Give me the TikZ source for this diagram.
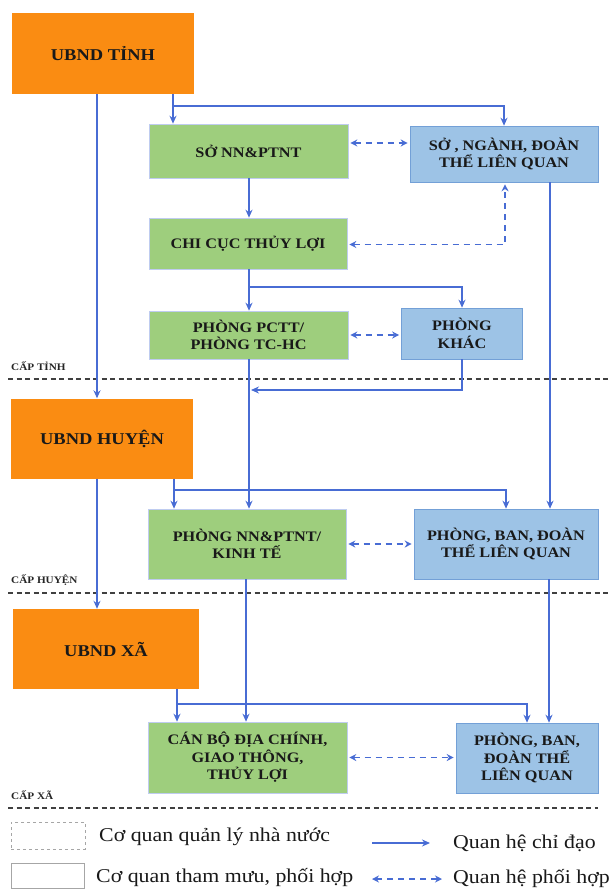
\documentclass[tikz,border=0pt]{standalone}
\usepackage{fontspec}
\setmainfont{Liberation Serif}[FakeStretch=1.12]
\usetikzlibrary{arrows.meta,calc}

\definecolor{ubndcol}{RGB}{250,140,18}
\definecolor{xanhla}{RGB}{158,206,125}
\definecolor{xanhduong}{RGB}{157,195,230}
\definecolor{vienduong}{RGB}{115,160,215}
\definecolor{linkcol}{RGB}{72,108,212}

\tikzset{
  ubndbox/.style={fill=ubndcol, inner sep=0pt, align=center, text=black!90,
    font=\bfseries\fontsize{16.5}{20}\selectfont},
  chuyenbox/.style={fill=xanhla, draw=linkcol!35, line width=0.6pt, inner sep=0pt,
    align=center, text=black!90, font=\bfseries\fontsize{14.5}{17.5}\selectfont},
  lienquanbox/.style={fill=xanhduong, draw=vienduong, line width=0.6pt, inner sep=0pt,
    align=center, text=black!90, font=\bfseries\fontsize{14.5}{17.5}\selectfont},
  chidao/.style={draw=linkcol, line width=1.8pt, -{Stealth[length=8pt,width=7pt]}},
  phoihop/.style={draw=linkcol, line width=1.8pt, dash pattern=on 6pt off 5pt,
    {Stealth[length=7pt,width=7pt]}-{Stealth[length=7pt,width=7pt]},
    shorten <=2pt, shorten >=2pt},
  capline/.style={draw=black!75, line width=1.2pt, dash pattern=on 5pt off 3.5pt},
  caplabel/.style={anchor=west, inner sep=0pt, text=black!85,
    font=\bfseries\fontsize{10}{12}\selectfont},
  legbox/.style={draw=black!35, fill=white, line width=0.8pt, inner sep=0pt},
  legtext/.style={anchor=west, inner sep=0pt, text=black!90,
    font=\fontsize{19.5}{22}\selectfont}
}

\begin{document}
\begin{tikzpicture}[x=1pt, y=-1pt]
      \useasboundingbox (0,0) rectangle (610,890);

      % cap tinh
      \node[ubndbox, minimum width=182, minimum height=81] (tinh) at (103,53.5) {UBND TỈNH};
      \node[chuyenbox, minimum width=199, minimum height=54] (so) at (248.5,151) {SỞ NN\&PTNT};
      \node[lienquanbox, minimum width=188, minimum height=56] (nganh) at (504,154)
        {SỞ , NGÀNH, ĐOÀN\\THỂ LIÊN QUAN};
      \node[chuyenbox, minimum width=198, minimum height=51] (chicuc) at (248,243.5) {CHI CỤC THỦY LỢI};
      \node[chuyenbox, minimum width=199, minimum height=48] (pctt) at (248.5,335)
        {PHÒNG PCTT/\\PHÒNG TC-HC};
      \node[lienquanbox, minimum width=121, minimum height=51] (khac) at (462,333.5)
        {PHÒNG\\KHÁC};

      % cap huyen
      \node[ubndbox, minimum width=182, minimum height=80] (huyen) at (102,438.5) {UBND HUYỆN};
      \node[chuyenbox, minimum width=198, minimum height=70] (pnn) at (247,544)
        {PHÒNG NN\&PTNT/\\KINH TẾ};
      \node[lienquanbox, minimum width=184, minimum height=70] (pbh) at (506,544)
        {PHÒNG, BAN, ĐOÀN\\THỂ LIÊN QUAN};

      % cap xa
      \node[ubndbox, minimum width=186, minimum height=80] (xa) at (106,649) {UBND XÃ};
      \node[chuyenbox, minimum width=199, minimum height=71] (canbo) at (247.5,757.5)
        {CÁN BỘ ĐỊA CHÍNH,\\GIAO THÔNG,\\THỦY LỢI};
      \node[lienquanbox, minimum width=142, minimum height=70] (pbx) at (527,758)
        {PHÒNG, BAN,\\ĐOÀN THỂ\\LIÊN QUAN};

      % duong chia cap
      \foreach \y/\t/\e [count=\i] in
      {379/CẤP TỈNH/610,593/CẤP HUYỆN/610,808/CẤP XÃ/598}{
        \node[caplabel] (cap\i) at (11,\y-13) {\t};
        \draw[capline] (8,\y) -- (\e,\y);
      }

      % lan cua cac duong chi dao
      \coordinate (lanubnd) at (97,0);
      \coordinate (lanphai) at (550,0);
      \coordinate (lanpnn) at (246,0);
      \coordinate (re1) at (173,106);
      \coordinate (re2) at (249,287);
      \coordinate (re3) at (174,490);
      \coordinate (re4) at (177,704);
      \coordinate (nhap) at (251,390);

      % quan he chi dao
      \draw[chidao] (tinh.south -| lanubnd) -- (huyen.north -| lanubnd);
      \draw[chidao] (huyen.south -| lanubnd) -- (xa.north -| lanubnd);
      \draw[chidao] (tinh.south -| re1) -- (so.north -| re1);
      \draw[chidao] (re1) -| (nganh.north);
      \draw[chidao] (so.south -| re2) -- (chicuc.north -| re2);
      \draw[chidao] (chicuc.south -| re2) -- (pctt.north -| re2);
      \draw[chidao] (re2) -| (khac.north);
      \draw[chidao] (pctt.south -| re2) -- (pnn.north -| re2);
      \draw[chidao] (khac.south) |- (nhap);
      \draw[chidao] (nganh.south -| lanphai) -- (pbh.north -| lanphai);
      \draw[chidao] (huyen.south -| re3) -- (pnn.north -| re3);
      \draw[chidao] (re3) -| (pbh.north);
      \draw[chidao] (pnn.south -| lanpnn) -- (canbo.north -| lanpnn);
      \draw[chidao] ([xshift=-1pt]pbh.south -| lanphai) -- ([xshift=-1pt]pbx.north -| lanphai);
      \draw[chidao] (xa.south -| re4) -- (canbo.north -| re4);
      \draw[chidao] (re4) -| (pbx.north);

      % quan he phoi hop
      \draw[phoihop] ([yshift=8pt]so.east) -- ([yshift=8pt]so.east -| nganh.west);
      \draw[phoihop] ([yshift=-1pt]chicuc.east) -| ([xshift=1pt]nganh.south);
      \draw[phoihop] (pctt.east) -- (pctt.east -| khac.west);
      \draw[phoihop] (pnn.east) -- (pbh.west);
      \draw[phoihop] (canbo.east) -- (canbo.east -| pbx.west);

      % chu thich
      \node[legbox, dashed, minimum width=74, minimum height=27] (lg1) at (48,835.5) {};
      \node[legbox, minimum width=73, minimum height=25] (lg2) at (47.5,875.5) {};
      \node[legtext] (lt1) at (99,837) {Cơ quan quản lý nhà nước};
      \node[legtext] (lt2) at (96,878) {Cơ quan tham mưu, phối hợp};
      \coordinate (la1) at (372,843);
      \coordinate (la2) at (430,843);
      \coordinate (lb1) at (372,879);
      \coordinate (lb2) at (442,879);
      \draw[chidao] (la1) -- (la2);
      \draw[phoihop, shorten <=0pt, shorten >=0pt] (lb1) -- (lb2);
      \node[legtext] (lt3) at (453,843) {Quan hệ chỉ đạo};
      \node[legtext] (lt4) at (453,879) {Quan hệ phối hợp};
\end{tikzpicture}
\end{document}
